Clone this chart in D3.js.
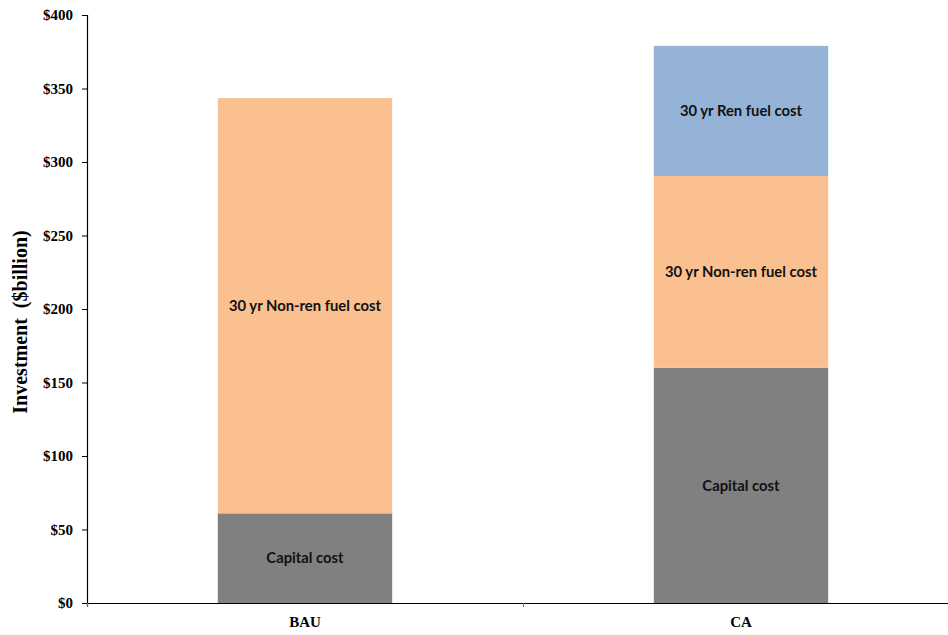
<!DOCTYPE html>
<html>
<head>
<meta charset="utf-8">
<script src="https://cdn.jsdelivr.net/npm/d3@7"></script>
<style>
  body { margin: 0; background: #fff; }
  svg { display: block; }
</style>
</head>
<body>
<svg id="chart" width="948" height="635"></svg>
<script>
// Scenarios and cost components ($billion)
const categories = ["BAU", "CA"];
const seriesNames = ["Capital cost", "30 yr Non-ren fuel cost", "30 yr Ren fuel cost"];
const capitalCost = [61, 160];
const nonRenFuelCost = [282.5, 130.5];
const renFuelCost = [0, 88.5];
const yTicks = [0, 50, 100, 150, 200, 250, 300, 350, 400];

const colors = ["#808080", "#FAC090", "#95B3D7"];

const svg = d3.select("#chart");
const plotLeft = 87, plotRight = 959, plotTop = 15, plotBottom = 603;

const x = d3.scaleBand().domain(categories).range([plotLeft, plotRight])
  .paddingInner(0.6).paddingOuter(0.3);
const y = d3.scaleLinear().domain([0, 400]).range([plotBottom, plotTop]);

const rows = categories.map((c, i) => ({
  cat: c,
  "Capital cost": capitalCost[i],
  "30 yr Non-ren fuel cost": nonRenFuelCost[i],
  "30 yr Ren fuel cost": renFuelCost[i]
}));
const stacked = d3.stack().keys(seriesNames)(rows);

const layers = svg.append("g").selectAll("g").data(stacked).join("g")
  .attr("fill", (d, i) => colors[i]);

layers.selectAll("rect").data(d => d.filter(s => s[1] - s[0] > 0)).join("rect")
  .attr("x", d => x(d.data.cat))
  .attr("width", x.bandwidth())
  .attr("y", d => y(d[1]))
  .attr("height", d => y(d[0]) - y(d[1]));

// Segment labels
stacked.forEach(layer => {
  layer.forEach(s => {
    if (s[1] - s[0] <= 0) return;
    svg.append("text")
      .attr("x", x(s.data.cat) + x.bandwidth() / 2)
      .attr("y", (y(s[0]) + y(s[1])) / 2)
      .attr("dy", "0.35em")
      .attr("text-anchor", "middle")
      .attr("font-family", "Lato, 'Open Sans', sans-serif")
      .attr("font-weight", "bold")
      .attr("font-size", "14.8px")
      .attr("fill", "#111")
      .text(layer.key);
  });
});

// Y axis
const yAxis = d3.axisLeft(y).tickValues(yTicks).tickFormat(d => "$" + d)
  .tickSizeInner(5).tickSizeOuter(0).tickPadding(9);
const gy = svg.append("g").attr("transform", `translate(${plotLeft},0)`).call(yAxis);
gy.select(".domain").attr("stroke", "#000").attr("stroke-width", 1.2)
  .attr("d", `M0.5,${plotTop}V${plotBottom + 4}`);
gy.selectAll(".tick line").attr("stroke", "#000");
gy.selectAll(".tick text")
  .attr("font-family", "'Liberation Serif', 'Times New Roman', serif")
  .attr("font-weight", "bold").attr("font-size", "15px").attr("fill", "#000");

// X axis
const gx = svg.append("g").attr("transform", `translate(0,${plotBottom})`);
gx.append("line").attr("x1", plotLeft).attr("x2", plotRight).attr("y1", 0.5).attr("y2", 0.5)
  .attr("stroke", "#000").attr("stroke-width", 1.2);
const boundaries = [plotLeft, plotLeft + x.step(), plotRight];
gx.selectAll("line.tk").data(boundaries).join("line").attr("class", "tk")
  .attr("x1", d => d + 0.5).attr("x2", d => d + 0.5).attr("y1", 0).attr("y2", 4)
  .attr("stroke", "#666");
gx.selectAll("text").data(categories).join("text")
  .attr("x", d => x(d) + x.bandwidth() / 2)
  .attr("y", 24)
  .attr("text-anchor", "middle")
  .attr("font-family", "'Liberation Serif', 'Times New Roman', serif")
  .attr("font-weight", "bold").attr("font-size", "15px")
  .text(d => d);

// Y axis title
svg.append("text")
  .attr("transform", `translate(27,322) rotate(-90)`)
  .attr("text-anchor", "middle")
  .attr("font-family", "'Liberation Serif', 'Times New Roman', serif")
  .attr("font-weight", "bold").attr("font-size", "20px")
  .attr("xml:space", "preserve")
  .text("Investment  ($billion)");
</script>
</body>
</html>
